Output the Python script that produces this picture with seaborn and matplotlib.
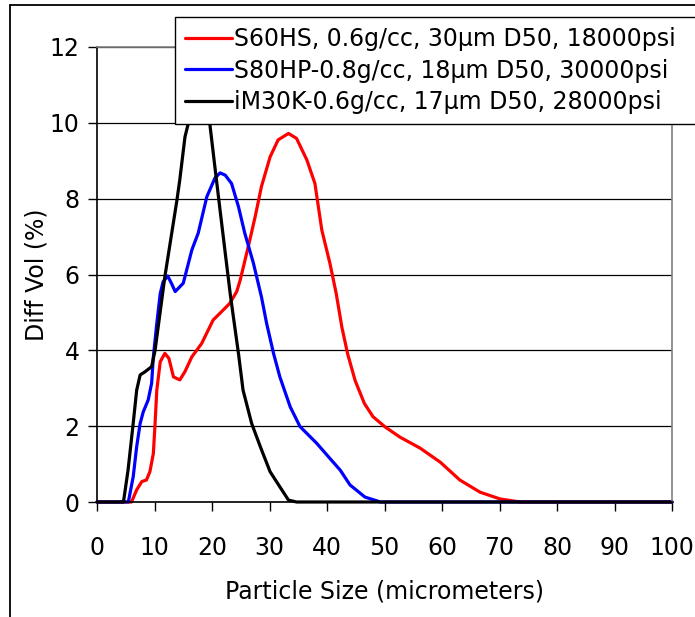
import matplotlib
matplotlib.use("Agg")
import matplotlib.pyplot as plt
import seaborn as sns
import pandas as pd
from matplotlib.lines import Line2D

# ---- data ----
labels = [
    "S60HS, 0.6g/cc, 30µm D50, 18000psi",
    "S80HP-0.8g/cc, 18µm D50, 30000psi",
    "iM30K-0.6g/cc, 17µm D50, 28000psi",
]
colors = ["#FF0000", "#0000FF", "#000000"]

x_red = [0, 6.0, 6.9, 7.8, 8.6, 9.2, 9.8, 10.1, 10.4, 11.0, 11.8, 12.5, 13.3, 14.4, 15.3,
         16.5, 18.2, 20.2, 21.4, 23.1, 24.3, 24.9, 26.3, 27.5, 28.6, 30.1, 31.5, 33.3,
         34.7, 36.5, 37.9, 39.1, 40.5, 41.6, 42.6, 43.6, 44.9, 46.5, 48.0, 50.1, 52.7,
         56.2, 59.7, 63.1, 66.6, 70.1, 73.6, 100]
y_red = [0, 0, 0.32, 0.54, 0.58, 0.8, 1.28, 2.07, 2.95, 3.7, 3.92, 3.79, 3.3, 3.22, 3.44,
         3.83, 4.18, 4.8, 4.98, 5.24, 5.55, 5.85, 6.73, 7.52, 8.32, 9.1, 9.55, 9.72,
         9.59, 9.02, 8.4, 7.17, 6.3, 5.5, 4.6, 3.9, 3.2, 2.6, 2.25, 1.98, 1.71,
         1.42, 1.05, 0.58, 0.26, 0.08, 0, 0]

x_blue = [0, 5.45, 6.3, 6.9, 7.5, 8.05, 8.9, 9.5, 9.8, 10.4, 11.0, 11.5, 12.3, 13.0, 13.6,
          15.0, 16.5, 17.6, 19.1, 20.5, 21.4, 22.3, 23.4, 24.6, 25.7, 27.2, 28.6, 29.5,
          30.7, 31.8, 33.6, 35.3, 38.2, 40.5, 42.3, 44.0, 46.6, 49.3, 100]
y_blue = [0, 0, 0.67, 1.46, 2.07, 2.38, 2.69, 3.13, 3.83, 4.71, 5.5, 5.81, 5.96, 5.75, 5.55,
          5.77, 6.65, 7.09, 8.05, 8.54, 8.68, 8.62, 8.4, 7.79, 7.09, 6.3, 5.41, 4.71,
          3.92, 3.3, 2.51, 1.99, 1.55, 1.15, 0.84, 0.45, 0.13, 0, 0]

x_black = [0, 4.6, 5.4, 6.3, 6.9, 7.5, 8.4, 9.5, 10.1, 11.5, 11.8, 13.9, 14.4, 15.3, 15.9,
           16.8, 17.8, 18.8, 19.6, 20.5, 21.4, 22.3, 23.2, 24.6, 25.4, 26.9, 28.4, 30.1,
           31.8, 33.3, 34.7, 100]
y_black = [0, 0, 0.84, 2.08, 2.95, 3.35, 3.44, 3.57, 4.0, 5.6, 5.94, 7.96, 8.5, 9.63, 10.0,
           10.6, 10.9, 10.7, 10.0, 8.84, 7.7, 6.57, 5.45, 3.92, 2.95, 2.07, 1.46, 0.8,
           0.4, 0.05, 0, 0]

x_ticks = [0, 10, 20, 30, 40, 50, 60, 70, 80, 90, 100]
y_ticks = [0, 2, 4, 6, 8, 10, 12]

# ---- build long table ----
frames = []
for lab, xs, ys in zip(labels, [x_red, x_blue, x_black], [y_red, y_blue, y_black]):
    frames.append(pd.DataFrame({"size": xs, "vol": ys, "series": lab}))
df = pd.concat(frames, ignore_index=True)

sns.set_theme(style="white")
plt.rcParams["font.family"] = ["DejaVu Sans"]
plt.rcParams["text.color"] = "black"
plt.rcParams["axes.labelcolor"] = "black"
plt.rcParams["xtick.color"] = "black"
plt.rcParams["ytick.color"] = "black"
FS = 17

W, H = 695, 617
fig = plt.figure(figsize=(W / 100, H / 100), dpi=100)
ax = fig.add_axes([97 / W, 1 - 502 / H, (672 - 97) / W, (502 - 47) / H])

sns.lineplot(data=df, x="size", y="vol", hue="series", hue_order=labels,
             palette=colors, sort=False, estimator=None,
             linewidth=2.3, ax=ax, clip_on=False)

ax.set_xlim(0, 100)
ax.set_ylim(0, 12)
ax.set_xticks(x_ticks)
ax.set_yticks(y_ticks)
ax.tick_params(axis="both", labelsize=FS, length=6.5, width=1, color="black",
               labelcolor="black", direction="out", bottom=True, left=True)
ax.tick_params(axis="x", pad=18)
ax.tick_params(axis="y", pad=6)
ax.grid(axis="y", color="black", linewidth=0.9)
ax.grid(axis="x", visible=False)
for s in ["left", "bottom"]:
    ax.spines[s].set_color("black")
    ax.spines[s].set_linewidth(1.2)
for s in ["top", "right"]:
    ax.spines[s].set_color("#808080")
    ax.spines[s].set_linewidth(1.2)
ax.set_axisbelow(True)
ax.set_xlabel("Particle Size (micrometers)", fontsize=FS, labelpad=14, color="black")
ax.set_ylabel("Diff Vol (%)", fontsize=FS, labelpad=1, color="black")

sns.move_legend(ax, loc="upper left",
                bbox_to_anchor=(175 / W, 1 - 122 / H, (702 - 175) / W, 105 / H),
                mode="expand",
                bbox_transform=fig.transFigure, title=None, frameon=True,
                fontsize=FS, handlelength=2.0, handletextpad=0.1,
                labelspacing=0.33, borderpad=0.42, borderaxespad=0,
                fancybox=False, framealpha=1, edgecolor="black")
leg = ax.get_legend()
leg.get_frame().set_linewidth(1.0)
for h in leg.get_lines():
    h.set_linewidth(2.3)
for t in leg.get_texts():
    t.set_color("black")

# outer chart border (left & top visible)
fx = 10 / W
fy = 1 - 5 / H
fig.add_artist(Line2D([fx, fx], [0, fy], transform=fig.transFigure, color="black", lw=1.3))
fig.add_artist(Line2D([fx, 1], [fy, fy], transform=fig.transFigure, color="black", lw=1.3))

fig.savefig("out.png", dpi=100, facecolor="white")
